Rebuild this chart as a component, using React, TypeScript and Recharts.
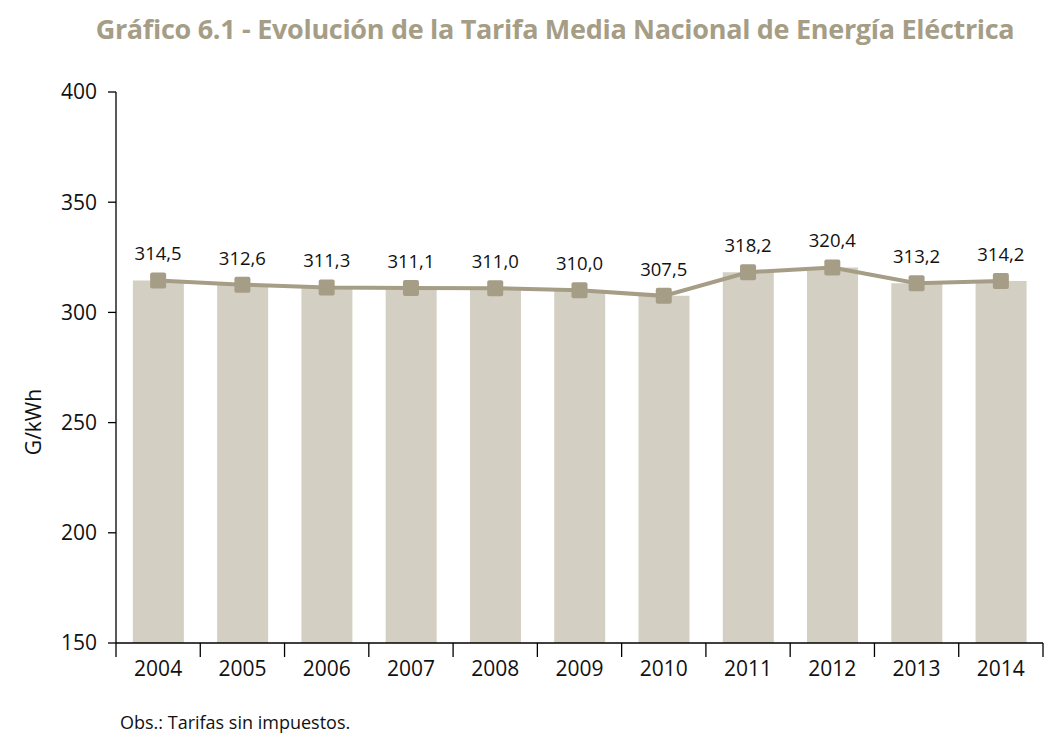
import React from "react"
import { ComposedChart, Bar, Line, XAxis, YAxis, LabelList } from "recharts"

// values (G/kWh)
const YEARS = ["2004", "2005", "2006", "2007", "2008", "2009", "2010", "2011", "2012", "2013", "2014"]
const TARIFA = [314.5, 312.6, 311.3, 311.1, 311.0, 310.0, 307.5, 318.2, 320.4, 313.2, 314.2]
const Y_TICKS = [150, 200, 250, 300, 350, 400]

const data = YEARS.map((year, i) => ({ year, tarifa: TARIFA[i] }))

const BAR_COLOR = "#d3cfc3"
const LINE_COLOR = "#a59d85"
const FONT = "'Open Sans', sans-serif"

const W = 1052
const H = 735
const MARGIN = { top: 92, right: 9, bottom: 52, left: 0 }
const Y_AXIS_W = 116
const BAND = (W - MARGIN.left - MARGIN.right - Y_AXIS_W) / YEARS.length

const fmt = (v: any) => Number(v).toFixed(1).replace(".", ",")

function YearTick(props: any) {
  const { x, y, payload, index } = props
  const left = x - BAND / 2
  return (
    <g>
      <line x1={left} x2={left} y1={y - 8} y2={y + 6} stroke="#000" strokeWidth={1.3} />
      {index === YEARS.length - 1 && (
        <line x1={left + BAND} x2={left + BAND} y1={y - 8} y2={y + 6} stroke="#000" strokeWidth={1.3} />
      )}
      <text x={x} y={y + 25} textAnchor="middle" fontFamily={FONT} fontSize={21} fill="#111">
        {payload.value}
      </text>
    </g>
  )
}

function SquareDot(props: any) {
  const { cx, cy } = props
  if (cx == null || cy == null) return null
  return <rect x={cx - 8} y={cy - 8} width={16} height={16} rx={2} fill={LINE_COLOR} />
}

export default function App() {
  return (
    <div style={{ position: "absolute", left: 0, top: 0, width: W, height: H, background: "#fff" }}>
      <div
        style={{
          position: "absolute",
          left: 0,
          top: 10,
          width: 1110,
          textAlign: "center",
          whiteSpace: "nowrap",
          fontFamily: FONT,
          fontWeight: 700,
          fontSize: 27,
          letterSpacing: -0.3,
          color: LINE_COLOR,
        }}
      >
        Gráfico 6.1 - Evolución de la Tarifa Media Nacional de Energía Eléctrica
      </div>
      <div style={{ position: "absolute", left: 0, top: 0 }}>
        <ComposedChart width={W} height={H} data={data} margin={MARGIN} barCategoryGap="20%">
          <XAxis
            dataKey="year"
            height={40}
            axisLine={{ stroke: "#000", strokeWidth: 1.3 }}
            tickLine={false}
            tick={<YearTick />}
            interval={0}
          />
          <YAxis
            width={Y_AXIS_W}
            domain={[150, 400]}
            ticks={Y_TICKS}
            allowDataOverflow
            axisLine={{ stroke: "#000", strokeWidth: 1.3 }}
            tickLine={{ stroke: "#000", strokeWidth: 1.3 }}
            tickSize={8}
            tickMargin={11}
            tick={{ fontFamily: FONT, fontSize: 21, fill: "#111" }}
          />
          <Bar dataKey="tarifa" fill={BAR_COLOR} isAnimationActive={false} />
          <Line
            dataKey="tarifa"
            stroke={LINE_COLOR}
            strokeWidth={4}
            dot={<SquareDot />}
            activeDot={false}
            isAnimationActive={false}
          >
            <LabelList
              dataKey="tarifa"
              position="top"
              offset={20}
              formatter={fmt}
              style={{ fontFamily: FONT, fontSize: 18.5, fill: "#111" }}
            />
          </Line>
        </ComposedChart>
      </div>
      <svg width={60} height={120} style={{ position: "absolute", left: 0, top: 362 }}>
        <text
          x={33}
          y={60}
          transform="rotate(-90, 33, 60)"
          textAnchor="middle"
          dominantBaseline="central"
          fontFamily={FONT}
          fontSize={21}
          fill="#111"
        >
          G/kWh
        </text>
      </svg>
      <div
        style={{
          position: "absolute",
          left: 120,
          top: 710,
          fontFamily: FONT,
          fontSize: 18,
          color: "#111",
        }}
      >
        Obs.: Tarifas sin impuestos.
      </div>
    </div>
  )
}
